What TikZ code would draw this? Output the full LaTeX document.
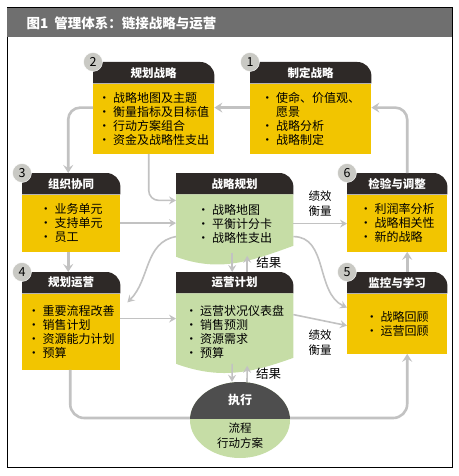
\documentclass[tikz,border=0pt]{standalone}
\usepackage{fontspec}
\setmainfont{Noto Sans CJK SC}
\usetikzlibrary{arrows.meta, positioning, shapes.geometric, backgrounds}
\definecolor{ink}{HTML}{2E2927}
\definecolor{gold}{HTML}{F2C500}
\definecolor{leaf}{HTML}{C6DDA6}
\definecolor{mist}{HTML}{C2C2C2}
\definecolor{pebble}{HTML}{C9C9C4}
\definecolor{slate}{HTML}{6F6F6F}
\definecolor{smoke}{HTML}{4E4E4E}

\begin{document}
\begin{tikzpicture}[
  x=1pt, y=-1pt,
  font=\fontsize{12}{14}\selectfont,
  head/.style={anchor=north west, inner sep=0pt, minimum width=#1, minimum height=21pt,
    text=white, font=\fontsize{11.5}{13}\selectfont\bfseries},
  goldbox/.style={fill=gold, inner sep=0pt, align=left},
  leafbox/.style={inner sep=0pt, align=left},
  num/.style={circle, fill=pebble, draw=white, thin, inner sep=0pt, minimum size=19pt,
    font=\fontsize{12.5}{13}\selectfont},
  flow/.style={-{Stealth[length=8pt, width=10pt, inset=3pt]}, line width=2.6pt, mist},
  link/.style={-{Stealth[length=7pt, width=8pt, inset=2.5pt]}, line width=1.6pt, mist},
  tag/.style={font=\fontsize{11.5}{15}\selectfont, align=center, text=black},
]
\useasboundingbox (0,0) rectangle (458,476);

% Marco y titulo
\draw[line width=1pt] (7,8) rectangle (452,467);
\fill[slate] (7,8) rectangle (452,37);
\node[anchor=west, text=white, font=\fontsize{13.5}{15}\selectfont\bfseries] (title) at (23,23)
  {图1\ \ 管理体系：链接战略与运营};

% Fila superior
\node[head=121pt] (hForm) at (250,62) {制定战略};
\node[goldbox, minimum width=121pt, minimum height=70pt, below=0pt of hForm] (bForm)
  {· 使命、价值观、\\\phantom{· }愿景\\· 战略分析\\· 战略制定};
\node[head=121pt] (hPlan) at (93,62) {规划战略};
\node[goldbox, minimum width=121pt, minimum height=70pt, below=0pt of hPlan] (bPlan)
  {· 战略地图及主题\\· 衡量指标及目标值\\· 行动方案组合\\· 资金及战略性支出};

% Columna izquierda
\node[head=98pt] (hAlign) at (22,173) {组织协同};
\node[goldbox, minimum width=98pt, minimum height=57pt, below=0pt of hAlign] (bAlign)
  {· 业务单元\\· 支持单元\\· 员工};
\node[head=98pt] (hOps) at (22,272) {规划运营};
\node[goldbox, minimum width=98pt, minimum height=76pt, below=0pt of hOps] (bOps)
  {· 重要流程改善\\· 销售计划\\· 资源能力计划\\· 预算};

% Centro
\node[head=117pt] (hSP) at (176,173) {战略规划};
\node[leafbox, minimum width=117pt, minimum height=58pt, below=0pt of hSP] (bSP)
  {· 战略地图\\· 平衡计分卡\\· 战略性支出};
\node[head=117pt] (hOP) at (176,272) {运营计划};
\node[leafbox, minimum width=117pt, minimum height=76pt, below=0pt of hOP] (bOP)
  {· 运营状况仪表盘\\· 销售预测\\· 资源需求\\· 预算};

% Columna derecha
\node[head=100pt] (hTest) at (347,173) {检验与调整};
\node[goldbox, minimum width=100pt, minimum height=57pt, below=0pt of hTest] (bTest)
  {· 利润率分析\\· 战略相关性\\· 新的战略};
\node[head=100pt] (hMon) at (347,272) {监控与学习};
\node[goldbox, minimum width=100pt, minimum height=60pt, below=0pt of hMon] (bMon)
  {· 战略回顾\\· 运营回顾};

% Numeros
\node[num] (n1) at (hForm.north west) {1};
\node[num] (n2) at (hPlan.north west) {2};
\node[num] (n3) at (hAlign.north west) {3};
\node[num] (n4) at (hOps.north west) {4};
\node[num] (n5) at (hMon.north west) {5};
\node[num] (n6) at (hTest.north west) {6};

% Ejecucion
\node[ellipse, fill=leaf, minimum width=100pt, minimum height=76pt, inner sep=0pt] (exec) at (240,420) {};
\begin{scope}
  \clip ([xshift=-52pt, yshift=2pt]exec.center) rectangle ([xshift=52pt, yshift=42pt]exec.center);
  \fill[smoke] (exec.center) ellipse [x radius=50pt, y radius=38pt];
\end{scope}
\node[text=white, font=\fontsize{12}{14}\selectfont\bfseries] (execT) at ([yshift=20pt]exec.center) {执行};
\node[tag] (execB) at ([yshift=-15.5pt]exec.center) {流程\\行动方案};

% Cabeceras y hojas al fondo
\begin{scope}[on background layer]
  \foreach \h in {hForm,hPlan,hAlign,hOps,hTest,hMon,hSP,hOP}
    \fill[ink] (\h.south west) -- (\h.north west) -- ([xshift=-14pt]\h.north east)
      arc[start angle=90, end angle=0, radius=14pt] -- (\h.south east) -- cycle;
  \fill[leaf] ([yshift=-4pt]bSP.south west) to[out=-20, in=200] ([yshift=7pt]bSP.south east)
    -- (bSP.north east) -- (bSP.north west) -- cycle;
  \fill[leaf] ([yshift=6pt]bOP.south west) to[out=-20, in=200] ([yshift=12pt]bOP.south east)
    -- (bOP.north east) -- (bOP.north west) -- cycle;
\end{scope}

% Conectores
\draw[flow] ([yshift=11pt]bForm.west) -- ([yshift=11pt]bPlan.east);
\draw[flow, rounded corners=12pt] ([yshift=11pt]bPlan.west) -| ([xshift=-3pt]hAlign.north);
\draw[flow, rounded corners=12pt] ([xshift=10pt]hTest.north) |- ([yshift=11pt]bForm.east);
\draw[link, rounded corners=10pt] ([xshift=-5pt]bPlan.south) |- ([yshift=-6pt]bSP.north west);
\draw[link] (bAlign.east) -- (bAlign.east -| bSP.west);
\draw[flow] ([xshift=-3pt]bAlign.south) -- ([xshift=-3pt]hOps.north);
\draw[link] ([yshift=-13pt]bSP.west) to[out=190, in=45] ([xshift=7pt, yshift=-9pt]bOps.north east);
\draw[link] ([yshift=13pt]bOps.east) -- ([yshift=13pt]bOps.east -| bOP.west);
\draw[link] (bSP.east) -- (bSP.east -| bTest.west) node[midway, above=3pt, tag] {绩效\\衡量};
\draw[link] ([yshift=-13pt]bSP.east) to[out=0, in=155] ([yshift=16pt]bMon.west);
\draw[link] ([yshift=17pt]bOP.east) -- ([yshift=-2pt]bMon.west) node[midway, below=6pt, tag] {绩效\\衡量};
\draw[flow] ([xshift=10pt]hMon.north) -- ([xshift=10pt]bTest.south);

% Resultados
\draw[link] ([xshift=-2.5pt]bSP.south) -- ([xshift=-2.5pt]hOP.north);
\draw[link, shorten >=3pt] ([xshift=12.5pt]hOP.north) -- ([xshift=12.5pt]bSP.south)
  node[midway, right=5pt, tag, font=\fontsize{12.5}{14}\selectfont] {结果};
\draw[link] ([xshift=-2.5pt, yshift=6pt]bOP.south) -- ([xshift=-8pt]exec.north);
\draw[link] ([xshift=7pt]exec.north) -- ([xshift=12.5pt, yshift=4pt]bOP.south)
  node[midway, right=5pt, tag, font=\fontsize{12.5}{14}\selectfont] {结果};

% Lazo de ejecucion
\draw[flow, -, rounded corners=14pt] ([xshift=-1pt]bOps.south) |- ([yshift=2pt]exec.west);
\draw[flow, rounded corners=14pt] ([yshift=2pt]exec.east) -| ([xshift=10pt]bMon.south);

\end{tikzpicture}
\end{document}
